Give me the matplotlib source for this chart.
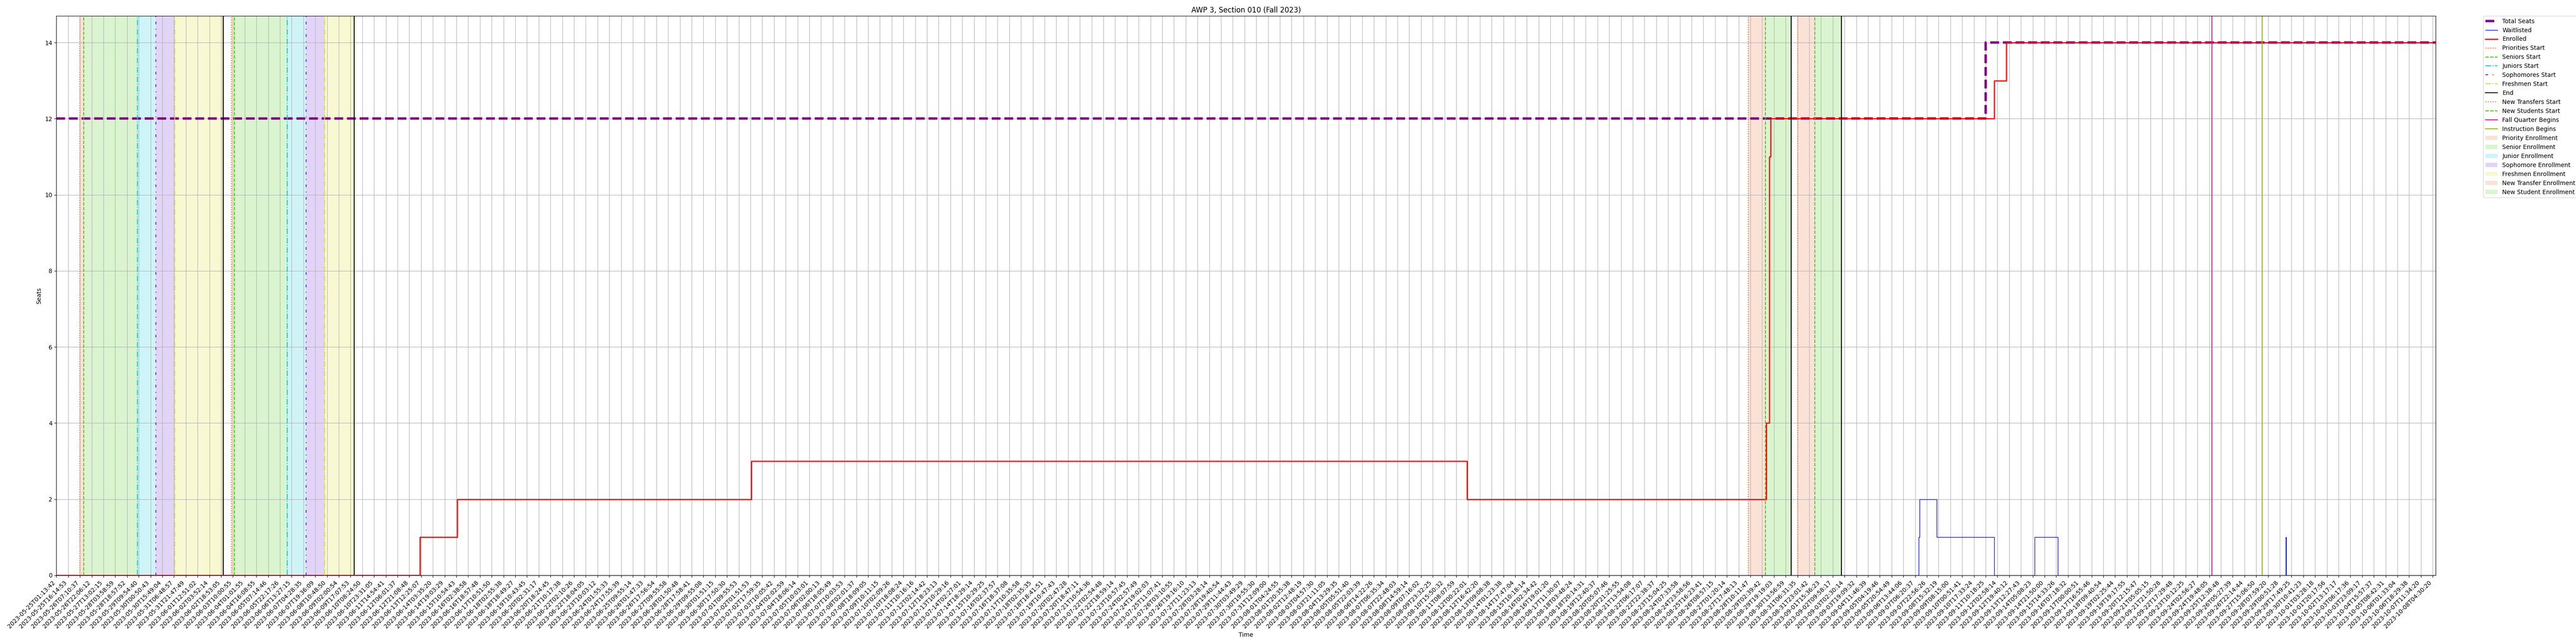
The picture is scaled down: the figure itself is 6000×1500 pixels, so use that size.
import matplotlib
matplotlib.use("Agg")
import matplotlib.pyplot as plt

# sample timestamps shown on the x axis (one tick per labelled sample)
tick_labels = [
    "2023-05-25T01:13:42", "2023-05-25T16:14:53", "2023-05-26T07:10:37", "2023-05-26T22:06:12",
    "2023-05-27T13:02:15", "2023-05-28T03:58:59", "2023-05-28T18:57:52", "2023-05-29T09:54:40",
    "2023-05-30T00:50:43", "2023-05-30T15:49:04", "2023-05-31T06:48:57", "2023-05-31T21:47:49",
    "2023-06-01T12:51:02", "2023-06-02T03:52:14", "2023-06-02T18:53:05", "2023-06-03T10:00:55",
    "2023-06-04T01:01:55", "2023-06-04T16:08:55", "2023-06-05T07:14:46", "2023-06-05T22:17:26",
    "2023-06-06T13:27:15", "2023-06-07T04:28:35", "2023-06-07T19:36:09", "2023-06-08T10:48:50",
    "2023-06-09T02:00:54", "2023-06-09T17:07:53", "2023-06-10T08:24:50", "2023-06-10T23:31:05",
    "2023-06-11T14:54:41", "2023-06-12T06:01:37", "2023-06-12T21:08:48", "2023-06-13T12:25:07",
    "2023-06-14T03:35:20", "2023-06-14T19:03:29", "2023-06-15T10:54:43", "2023-06-16T02:38:58",
    "2023-06-16T18:57:48", "2023-06-17T10:51:50", "2023-06-18T02:55:38", "2023-06-18T18:49:27",
    "2023-06-19T10:43:45", "2023-06-20T02:31:17", "2023-06-20T18:24:45", "2023-06-21T10:17:38",
    "2023-06-22T02:10:26", "2023-06-22T18:04:05", "2023-06-23T10:03:12", "2023-06-24T01:55:33",
    "2023-06-24T17:55:39", "2023-06-25T09:55:14", "2023-06-26T01:47:33", "2023-06-26T17:56:54",
    "2023-06-27T09:55:58", "2023-06-28T01:50:48", "2023-06-28T17:58:41", "2023-06-29T09:55:08",
    "2023-06-30T01:51:15", "2023-06-30T17:50:30", "2023-07-01T09:55:53", "2023-07-02T01:51:53",
    "2023-07-02T17:59:35", "2023-07-03T10:05:42", "2023-07-04T02:02:59", "2023-07-04T18:06:14",
    "2023-07-05T10:03:01", "2023-07-06T02:00:13", "2023-07-06T18:05:49", "2023-07-07T10:03:53",
    "2023-07-08T02:01:37", "2023-07-08T18:09:05", "2023-07-09T10:11:15", "2023-07-10T02:09:26",
    "2023-07-10T18:08:24", "2023-07-11T10:16:16", "2023-07-12T02:14:42", "2023-07-12T18:23:13",
    "2023-07-13T10:29:16", "2023-07-14T02:27:01", "2023-07-14T18:29:14", "2023-07-15T10:29:25",
    "2023-07-16T02:37:57", "2023-07-16T18:37:08", "2023-07-17T10:35:58", "2023-07-18T02:35:35",
    "2023-07-18T18:41:51", "2023-07-19T10:47:43", "2023-07-20T02:47:28", "2023-07-20T18:47:11",
    "2023-07-21T10:54:36", "2023-07-22T02:54:48", "2023-07-22T18:59:14", "2023-07-23T10:57:45",
    "2023-07-24T02:57:49", "2023-07-24T19:02:03", "2023-07-25T11:07:41", "2023-07-26T03:10:55",
    "2023-07-26T19:16:10", "2023-07-27T11:23:13", "2023-07-28T03:28:14", "2023-07-28T19:40:54",
    "2023-07-29T11:44:43", "2023-07-30T03:49:29", "2023-07-30T19:55:30", "2023-07-31T12:09:00",
    "2023-08-01T04:24:55", "2023-08-01T20:35:38", "2023-08-02T12:48:19", "2023-08-03T04:57:30",
    "2023-08-03T21:11:05", "2023-08-04T13:29:35", "2023-08-05T05:51:40", "2023-08-05T22:03:39",
    "2023-08-06T14:22:26", "2023-08-07T06:35:34", "2023-08-07T22:48:03", "2023-08-08T14:59:14",
    "2023-08-09T07:16:02", "2023-08-09T23:32:25", "2023-08-10T15:50:32", "2023-08-11T08:07:59",
    "2023-08-12T00:22:01", "2023-08-12T16:42:20", "2023-08-13T09:08:38", "2023-08-14T01:23:38",
    "2023-08-14T17:47:04", "2023-08-15T10:18:14", "2023-08-16T02:34:42", "2023-08-16T19:01:20",
    "2023-08-17T11:30:07", "2023-08-18T03:48:24", "2023-08-18T20:14:31", "2023-08-19T12:40:37",
    "2023-08-20T05:07:46", "2023-08-20T21:25:55", "2023-08-21T13:54:08", "2023-08-22T06:17:07",
    "2023-08-22T22:38:37", "2023-08-23T15:04:25", "2023-08-24T07:33:58", "2023-08-24T23:58:56",
    "2023-08-25T16:23:41", "2023-08-26T08:57:15", "2023-08-27T01:20:14", "2023-08-27T17:48:13",
    "2023-08-28T10:11:47", "2023-08-29T02:39:42", "2023-08-29T19:19:03", "2023-08-30T13:56:59",
    "2023-08-31T06:31:35", "2023-08-31T23:01:42", "2023-09-01T15:36:23", "2023-09-02T09:58:17",
    "2023-09-03T02:30:14", "2023-09-03T19:09:32", "2023-09-04T11:46:39", "2023-09-05T04:19:46",
    "2023-09-05T20:54:49", "2023-09-06T13:44:06", "2023-09-07T06:20:37", "2023-09-07T22:56:26",
    "2023-09-08T15:32:19", "2023-09-09T08:15:00", "2023-09-10T00:51:41", "2023-09-10T17:33:24",
    "2023-09-11T10:18:25", "2023-09-12T02:58:14", "2023-09-12T19:40:12", "2023-09-13T12:27:43",
    "2023-09-14T05:08:23", "2023-09-14T21:50:00", "2023-09-15T14:33:26", "2023-09-16T07:18:32",
    "2023-09-17T00:00:51", "2023-09-17T16:55:46", "2023-09-18T09:40:54", "2023-09-19T02:25:44",
    "2023-09-19T19:17:55", "2023-09-20T12:15:47", "2023-09-21T05:05:15", "2023-09-21T21:50:28",
    "2023-09-22T17:29:48", "2023-09-23T10:12:25", "2023-09-24T02:56:27", "2023-09-24T19:48:05",
    "2023-09-25T12:38:48", "2023-09-26T05:27:39", "2023-09-26T22:14:44", "2023-09-27T15:06:50",
    "2023-09-28T07:59:20", "2023-09-29T00:51:28", "2023-09-29T17:49:25", "2023-09-30T10:41:23",
    "2023-10-01T03:28:18", "2023-10-01T20:17:56", "2023-10-02T13:17:17", "2023-10-03T06:17:36",
    "2023-10-03T23:09:17", "2023-10-04T15:57:37", "2023-10-05T08:42:31", "2023-10-06T01:33:04",
    "2023-10-06T18:29:38", "2023-10-07T11:34:20", "2023-10-08T04:30:20",
]
last_sample = 202.25  # position of the final sample, in tick units

# seat counts, given as change points (tick-unit position, value from there on)
total_x = [0, 164.01, last_sample]
total_y = [12, 14, 14]
waitlist_x = [0, 158.29, 158.39, 159.83, 164.72, 168.18, 170.12, 189.53, 189.535, last_sample]
waitlist_y = [0, 1, 2, 1, 0, 1, 0, 1, 0, 0]
enrolled_x = [0, 30.88, 34.07, 59.09, 119.91, 145.36, 145.61, 145.72, 164.72, 165.74, last_sample]
enrolled_y = [0, 1, 2, 3, 2, 4, 11, 12, 13, 14, 14]

# registration passes: priorities, seniors, juniors, sophomores, freshmen, end
pass1 = [2.01, 2.32, 6.90, 8.46, 10.05, 14.17]
pass2 = [14.89, 15.12, 19.63, 21.21, 22.78, 25.31]
# new student passes: new transfers, new students, end
new_pass1 = [143.83, 145.28, 147.47]
new_pass2 = [148.00, 149.47, 151.74]
fall_quarter_begins = 183.23
instruction_begins = 187.51

c_prio = '#e8703a'
c_senior = '#44cc11'
c_junior = '#11c8d8'
c_soph = '#6a2ad8'
c_fresh = '#dddd22'

fig, ax = plt.subplots(figsize=(60, 15), dpi=100)
fig.subplots_adjust(left=0.0219, right=0.9455, top=0.9753, bottom=0.1067)

x_ticks = list(range(len(tick_labels)))

ax.plot(total_x, total_y, drawstyle='steps-post', color='purple', linestyle='--',
        linewidth=4, label='Total Seats')
ax.plot(waitlist_x, waitlist_y, drawstyle='steps-post', color='blue', linewidth=1,
        label='Waitlisted')
ax.plot(enrolled_x, enrolled_y, drawstyle='steps-post', color='red', linewidth=2,
        label='Enrolled')

pass_styles = [(c_prio, ':', 'Priorities Start'), (c_senior, '--', 'Seniors Start'),
               (c_junior, '-.', 'Juniors Start'), (c_soph, (0, (3, 5, 1, 5)), 'Sophomores Start'),
               (c_fresh, '-.', 'Freshmen Start'), ('black', '-', 'End')]
for i, passes in enumerate([pass1, pass2]):
    for xv, (col, ls, lab) in zip(passes, pass_styles):
        ax.axvline(xv, color=col, linestyle=ls, linewidth=1.5, label=lab if i == 0 else None)

new_styles = [(c_prio, ':', 'New Transfers Start'), (c_senior, '--', 'New Students Start'),
              ('black', '-', None)]
for i, passes in enumerate([new_pass1, new_pass2]):
    for xv, (col, ls, lab) in zip(passes, new_styles):
        ax.axvline(xv, color=col, linestyle=ls, linewidth=1.5, label=lab if i == 0 else None)

ax.axvline(fall_quarter_begins, color='#e0159c', linewidth=1.5, label='Fall Quarter Begins')
ax.axvline(instruction_begins, color='#93b81e', linewidth=1.5, label='Instruction Begins')

span_styles = [(c_prio, 'Priority Enrollment'), (c_senior, 'Senior Enrollment'),
               (c_junior, 'Junior Enrollment'), (c_soph, 'Sophomore Enrollment'),
               (c_fresh, 'Freshmen Enrollment')]
for i, passes in enumerate([pass1, pass2]):
    for j, (col, lab) in enumerate(span_styles):
        ax.axvspan(passes[j], passes[j + 1], color=col, alpha=0.2, linewidth=0,
                   label=lab if i == 0 else None)

new_span_styles = [(c_prio, 'New Transfer Enrollment'), (c_senior, 'New Student Enrollment')]
for i, passes in enumerate([new_pass1, new_pass2]):
    for j, (col, lab) in enumerate(new_span_styles):
        ax.axvspan(passes[j], passes[j + 1], color=col, alpha=0.2, linewidth=0,
                   label=lab if i == 0 else None)

ax.set_xticks(x_ticks)
ax.set_xticklabels(tick_labels, rotation=45, ha='right')
ax.set_xlim(0, last_sample)
ax.set_ylim(bottom=0)
ax.grid(True)
ax.set_xlabel('Time')
ax.set_ylabel('Seats')
ax.set_title('AWP 3, Section 010 (Fall 2023)')
ax.legend(bbox_to_anchor=(1.02, 1), loc='upper left', borderaxespad=0)

fig.savefig('out.png')
